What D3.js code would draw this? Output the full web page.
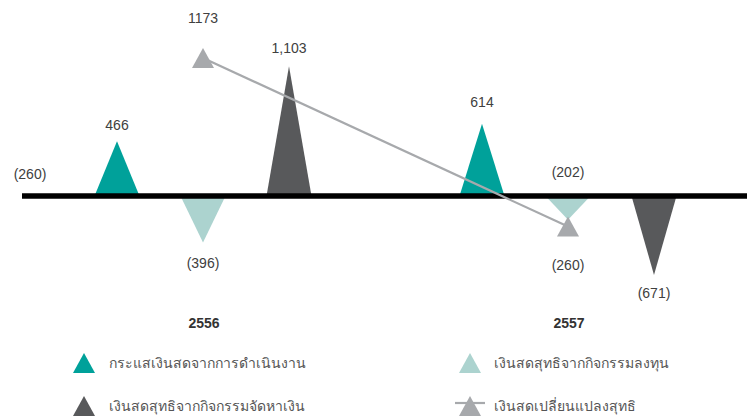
<!DOCTYPE html>
<html>
<head>
<meta charset="utf-8">
<script src="https://cdn.jsdelivr.net/npm/d3@7"></script>
<style>
  body { margin: 0; background: #fff; }
  text { font-family: "Liberation Sans", Arial, sans-serif; }
</style>
</head>
<body>
<div id="chart"></div>
<script>
// ===== data =====
let years = ["2556", "2557"];
let series = ["operating", "investing", "financing"];
let seriesNames = {
  operating: "กระแสเงินสดจากการดำเนินงาน",
  investing: "เงินสดสุทธิจากกิจกรรมลงทุน",
  financing: "เงินสดสุทธิจากกิจกรรมจัดหาเงิน",
  net: "เงินสดเปลี่ยนแปลงสุทธิ"
};
let operating = [466, 614];
let investing = [-396, -202];
let financing = [1103, -671];
let netChange = [1173, -260];
let valueLabels = {
  operating: ["466", "614"],
  investing: ["(396)", "(202)"],
  financing: ["1,103", "(671)"],
  net: ["1173", "(260)"]
};
let strayLabel = "(260)";

let colors = {
  operating: "#00a19a",
  investing: "#acd3cf",
  financing: "#58595b",
  net: "#a7a9ac"
};

let width = 747, height = 417;
let baseY = 196;

let svg = d3.select("#chart").append("svg")
    .attr("width", width)
    .attr("height", height);

// ===== scales =====
let x = d3.scalePoint().domain(years).range([203, 568]);
let xInner = d3.scalePoint().domain(series).range([-86, 86]);
let y = d3.scaleLinear().domain([0, 1000]).range([baseY, baseY - 1000 / 8.5]);

let halfW = 22.5;

let points = [];
years.forEach((yr, i) => {
  let vals = {operating: operating[i], investing: investing[i], financing: financing[i]};
  series.forEach(s => points.push({year: yr, key: s, value: vals[s], label: valueLabels[s][i]}));
});

// spikes
svg.selectAll(".spike")
  .data(points)
  .enter().append("path")
    .attr("class", "spike")
    .attr("fill", d => colors[d.key])
    .attr("d", d => {
      let cx = x(d.year) + xInner(d.key);
      return "M" + (cx - halfW) + "," + y(0) + "L" + cx + "," + y(d.value) + "L" + (cx + halfW) + "," + y(0) + "Z";
    });

// baseline
svg.append("line")
    .attr("x1", 22).attr("x2", width)
    .attr("y1", y(0)).attr("y2", y(0))
    .attr("stroke", "#000")
    .attr("stroke-width", 5.5);

// net change line + markers
let netPts = years.map((yr, i) => ({year: yr, value: netChange[i], label: valueLabels.net[i]}));

svg.append("path")
    .datum(netPts)
    .attr("fill", "none")
    .attr("stroke", colors.net)
    .attr("stroke-width", 2.2)
    .attr("d", d3.line().x(d => x(d.year)).y(d => y(d.value)));

svg.selectAll(".netMark")
  .data(netPts)
  .enter().append("path")
    .attr("class", "netMark")
    .attr("fill", colors.net)
    .attr("d", "M-11,10L0,-10L11,10Z")
    .attr("transform", d => "translate(" + x(d.year) + "," + y(d.value) + ")");

// value labels
let labelNudge = {"614": -6, "1,103": -2, "(396)": 2};

svg.selectAll(".valLabel")
  .data(points)
  .enter().append("text")
    .attr("class", "valLabel")
    .attr("text-anchor", "middle")
    .attr("font-size", 14)
    .attr("fill", "#404040")
    .attr("x", d => x(d.year) + xInner(d.key))
    .attr("y", d => {
      let ly;
      if (d.key === "investing" && d.value > -300) ly = y(0) - 19;
      else if (d.value >= 0) ly = y(d.value) - 11;
      else ly = y(d.value) + 23;
      return ly + (labelNudge[d.label] || 0);
    })
    .text(d => d.label);

svg.selectAll(".netLabel")
  .data(netPts)
  .enter().append("text")
    .attr("class", "netLabel")
    .attr("text-anchor", "middle")
    .attr("font-size", 14)
    .attr("fill", "#404040")
    .attr("x", d => x(d.year))
    .attr("y", d => d.value >= 0 ? y(d.value) - 35 : y(d.value) + 43)
    .text(d => d.label);

svg.append("text")
    .attr("text-anchor", "middle")
    .attr("font-size", 14)
    .attr("fill", "#404040")
    .attr("x", 30)
    .attr("y", y(0) - 17)
    .text(strayLabel);

// year labels
svg.selectAll(".yearLabel")
  .data(years)
  .enter().append("text")
    .attr("class", "yearLabel")
    .attr("text-anchor", "middle")
    .attr("font-size", 14)
    .attr("font-weight", "bold")
    .attr("fill", "#333")
    .attr("x", d => x(d) + 1)
    .attr("y", 328)
    .text(d => d);

// ===== legend =====
let legendItems = [
  {key: "operating", col: 0, row: 0},
  {key: "investing", col: 1, row: 0},
  {key: "financing", col: 0, row: 1},
  {key: "net", col: 1, row: 1}
];

let legend = svg.selectAll(".legend")
  .data(legendItems)
  .enter().append("g")
    .attr("class", "legend")
    .attr("transform", d => "translate(" + (d.col ? 470 : 84) + "," + (d.row ? 406 : 363) + ")");

legend.filter(d => d.key === "net").append("line")
    .attr("x1", -15).attr("x2", 15)
    .attr("y1", -3).attr("y2", -3)
    .attr("stroke", colors.net)
    .attr("stroke-width", 2.2);

legend.append("path")
    .attr("fill", d => colors[d.key])
    .attr("d", "M-11,10L0,-10L11,10Z");

legend.append("text")
    .attr("x", d => d.col ? 24 : 25)
    .attr("y", 5)
    .attr("font-size", 14)
    .attr("fill", "#555")
    .style("font-family", "'Noto Sans', 'DejaVu Sans', sans-serif")
    .text(d => seriesNames[d.key]);
</script>
</body>
</html>
